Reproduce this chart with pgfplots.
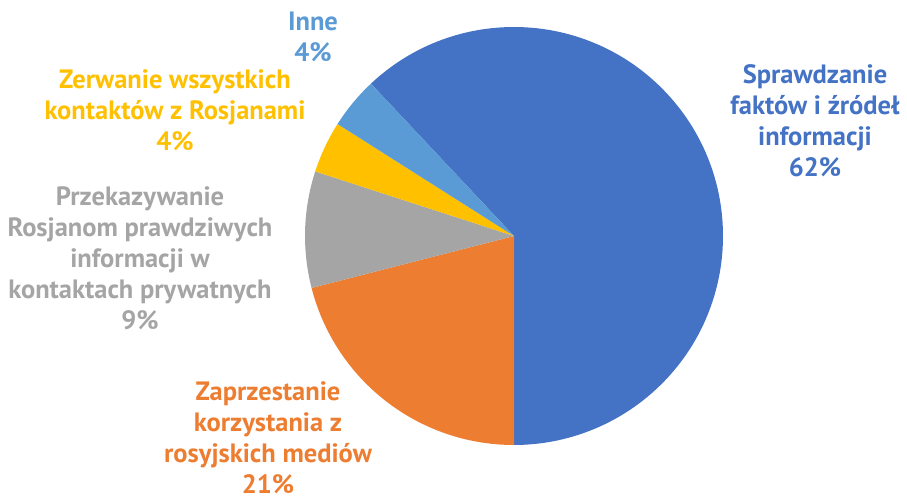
\documentclass[border=0pt]{standalone}
\usepackage{pgfplots}
\pgfplotsset{compat=1.18}
\usepackage{pgfplotstable}
\usepackage{fontspec}
\setmainfont{PT Sans}
\definecolor{cBlue}{HTML}{4472C4}
\definecolor{cOrange}{HTML}{ED7D31}
\definecolor{cGray}{HTML}{A5A5A5}
\definecolor{cYellow}{HTML}{FFC000}
\definecolor{cLight}{HTML}{5B9BD5}
\pgfplotstableread{
val col
62 cBlue
21 cOrange
9 cGray
4 cYellow
4 cLight
}\pietable
\begin{document}
\begin{tikzpicture}
\useasboundingbox (0,0) rectangle (907pt,495pt);
\begin{axis}[at={(0pt,0pt)}, anchor=south west, scale only axis,
  width=907pt, height=495pt, xmin=0, xmax=907, ymin=0, ymax=495,
  hide axis, clip=false]
\pgfmathsetmacro\piecur{133.2}
\pgfplotsforeachungrouped \i in {0,...,4}{%
  \pgfplotstablegetelem{\i}{val}\of\pietable \let\pieval\pgfplotsretval
  \pgfplotstablegetelem{\i}{col}\of\pietable \let\piecol\pgfplotsretval
  \pgfmathsetmacro\pienxt{\piecur-3.6*\pieval}%
  \edef\pietemp{\noexpand\fill[\piecol] (axis cs:514,259) -- +(\piecur:209pt) arc[start angle=\piecur, end angle=\pienxt, radius=209pt] -- cycle;}%
  \pietemp
  \global\let\piecur\pienxt
}
\tikzset{lab/.style={align=center, inner sep=0pt, font=\fontsize{26.5}{31}\selectfont\bfseries}}
\node[lab, text=cLight] at (axis cs:313,458) {Inne\\4\%};
\node[lab, text=cYellow] at (axis cs:175,385) {Zerwanie wszystkich\\kontaktów z Rosjanami\\4\%};
\node[lab, text=cGray] at (axis cs:140,237) {Przekazywanie\\Rosjanom prawdziwych\\informacji w\\kontaktach prywatnych\\9\%};
\node[lab, text=cOrange] at (axis cs:268,57) {Zaprzestanie\\korzystania z\\rosyjskich mediów\\21\%};
\node[lab, text=cBlue] at (axis cs:815,374) {Sprawdzanie\\faktów i źródeł\\informacji\\62\%};
\end{axis}
\end{tikzpicture}
\end{document}
